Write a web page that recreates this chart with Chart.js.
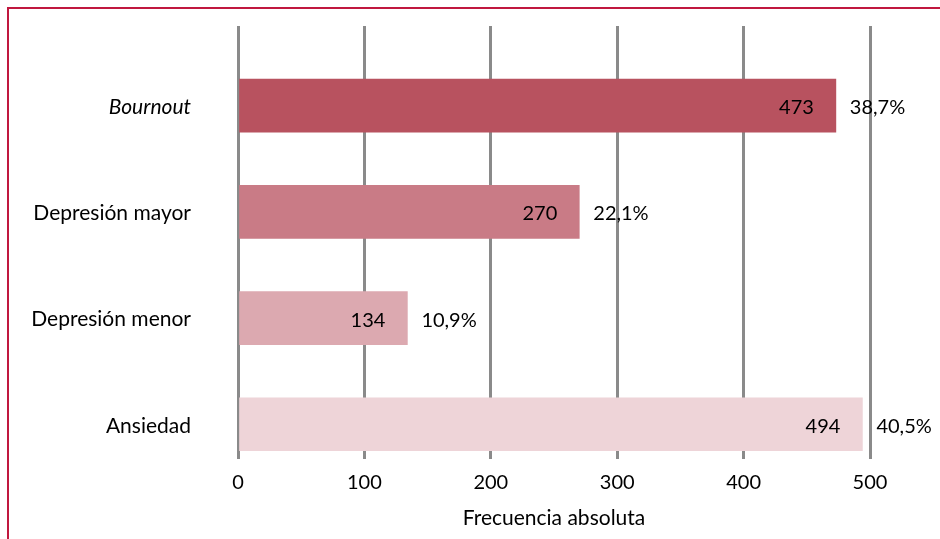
<!DOCTYPE html>
<html>
<head>
<meta charset="utf-8">
<script src="https://cdn.jsdelivr.net/npm/chart.js@4.4.1/dist/chart.umd.min.js"></script>
<style>
  html, body { margin: 0; padding: 0; background: #fff; overflow: hidden; }
  .frame {
    position: absolute; left: 7px; top: 7px;
    width: 1000px; height: 1000px;
    border: 2px solid #c0183f;
  }
  .wrap { position: absolute; left: 0; top: 0; width: 940px; height: 539px; }
</style>
</head>
<body>
<div class="frame"></div>
<div class="wrap"><canvas id="chart" width="940" height="539"></canvas></div>
<script>
const categories = ['Bournout', 'Depresión mayor', 'Depresión menor', 'Ansiedad'];
const counts = [473, 270, 134, 494];
const percents = [38.7, 22.1, 10.9, 40.5];
const xTicks = [0, 100, 200, 300, 400, 500];

const barColors = ['#b8525f', '#c97b86', '#dca9b0', '#eed4d8'];

const fontFamily = 'Lato, "Open Sans", sans-serif';

function formatPercent(v) {
  return v.toFixed(1).replace('.', ',') + '%';
}

// labels: count inside the bar end, percentage after it
const barLabels = {
  id: 'barLabels',
  afterDatasetsDraw(chart) {
    const ctx = chart.ctx;
    const meta = chart.getDatasetMeta(1);
    ctx.save();
    ctx.font = '20px ' + fontFamily;
    ctx.fillStyle = '#000';
    ctx.textBaseline = 'middle';
    meta.data.forEach((bar, i) => {
      ctx.textAlign = 'right';
      ctx.fillText(String(counts[i]), bar.x - 22, bar.y + 2);
      ctx.textAlign = 'left';
      ctx.fillText(formatPercent(percents[i]), bar.x + 14, bar.y + 2);
    });
    ctx.restore();
  },
};

new Chart(document.getElementById('chart'), {
  type: 'bar',
  data: {
    labels: categories,
    datasets: [
      {
        label: 'Porcentaje',
        data: percents,
        backgroundColor: 'rgba(0,0,0,0)',
        borderWidth: 0,
      },
      {
        label: 'Frecuencia absoluta',
        data: counts,
        backgroundColor: barColors,
        borderWidth: 0,
      },
    ],
  },
  options: {
    indexAxis: 'y',
    responsive: false,
    animation: false,
    layout: { padding: { top: 26, right: 70, left: 0, bottom: 0 } },
    datasets: { bar: { categoryPercentage: 1, barPercentage: 1 } },
    plugins: {
      legend: { display: false },
      tooltip: { enabled: false },
    },
    scales: {
      x: {
        min: 0,
        max: 500,
        afterFit: (scale) => { scale.height = 88; },
        afterBuildTicks: (scale) => { scale.ticks = xTicks.map((v) => ({ value: v })); },
        grid: { color: '#8a8a8a', lineWidth: 3, tickLength: 8, drawTicks: true },
        border: { display: false },
        ticks: {
          color: '#000',
          padding: 12,
          font: { family: fontFamily, size: 20 },
        },
        title: {
          display: true,
          text: 'Frecuencia absoluta',
          color: '#000',
          font: { family: fontFamily, size: 21 },
          padding: { top: 0, bottom: 8 },
        },
      },
      y: {
        afterFit: (scale) => { scale.width = 238; },
        grid: { display: false, drawTicks: true, tickLength: 47 },
        border: { display: false },
        ticks: {
          color: '#000',
          padding: 0,
          labelOffset: 28,
          font: (c) => ({
            family: fontFamily,
            size: 21,
            style: c.index === 0 ? 'italic' : 'normal',
          }),
        },
      },
    },
  },
  plugins: [barLabels],
});
</script>
</body>
</html>
